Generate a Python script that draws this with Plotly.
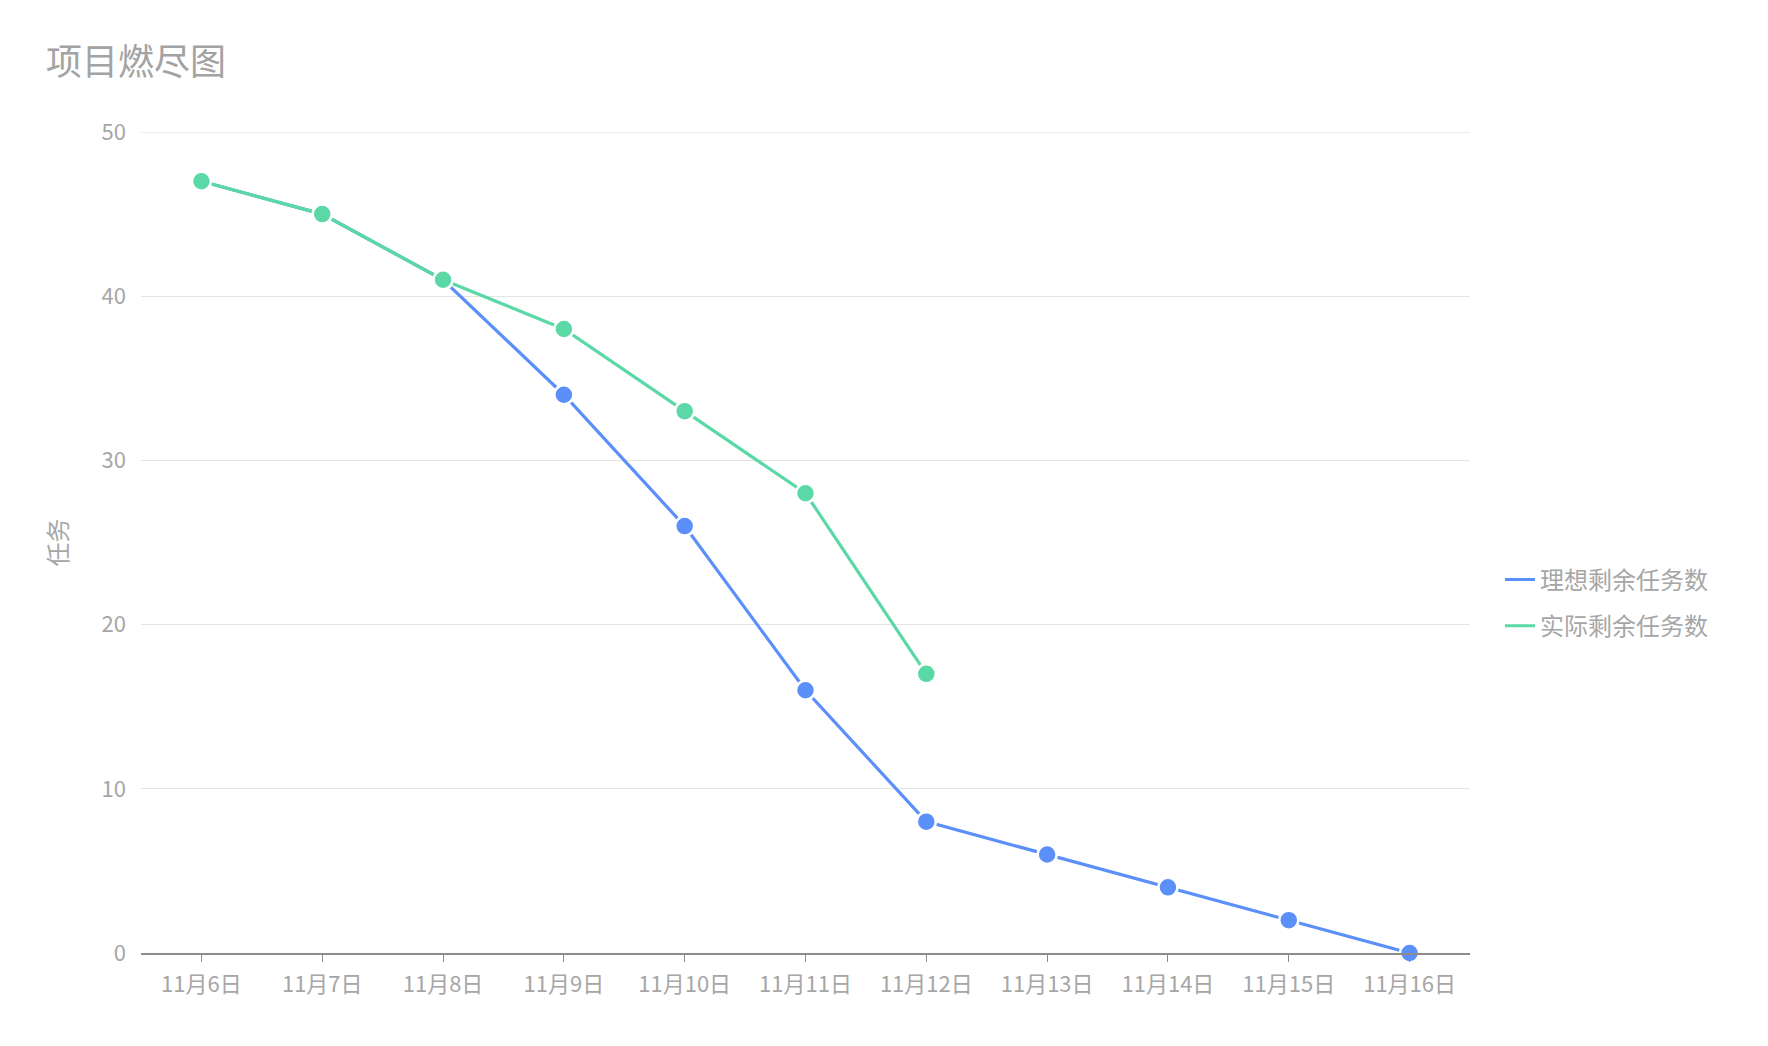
import plotly.graph_objects as go

categories = ["11月6日", "11月7日", "11月8日", "11月9日", "11月10日", "11月11日",
              "11月12日", "11月13日", "11月14日", "11月15日", "11月16日"]
ideal_remaining = [47, 45, 41, 34, 26, 16, 8, 6, 4, 2, 0]
actual_remaining = [47, 45, 41, 38, 33, 28, 17]
series_names = ["理想剩余任务数", "实际剩余任务数"]
y_ticks = [0, 10, 20, 30, 40, 50]

BLUE = "#5B8FF9"
GREEN = "#5AD8A6"
TEXT = "#a6a6a6"
GRID = "#e3e3e3"
FONT = "Noto Sans CJK SC, Microsoft YaHei, sans-serif"

# page body has an 8px margin, so the figure is drawn 8px smaller
W, H = 1760, 1038
fig = go.Figure()

for i, (name, vals, col) in enumerate([(series_names[0], ideal_remaining, BLUE),
                                       (series_names[1], actual_remaining, GREEN)]):
    fig.add_trace(go.Scatter(
        x=categories[:len(vals)], y=vals, mode="lines+markers", name=name,
        line=dict(color=col, width=3.2),
        marker=dict(size=19, color=col, line=dict(color="white", width=2.5)),
        showlegend=False, cliponaxis=False, legendgroup=f"g{i}",
    ))
    # legend-only entry (line symbol without marker)
    fig.add_trace(go.Scatter(
        x=[None], y=[None], mode="lines", name=name,
        line=dict(color=col, width=3), showlegend=True, legendgroup=f"g{i}",
    ))

# top gridline (plotly drops the gridline lying on the plot edge)
fig.add_shape(type="line", xref="paper", yref="y", x0=0, x1=1,
              y0=y_ticks[-1], y1=y_ticks[-1], layer="below",
              line=dict(color=GRID, width=1.5))

fig.update_layout(
    width=W, height=H,
    paper_bgcolor="white", plot_bgcolor="white",
    font=dict(family=FONT, color=TEXT, size=22),
    margin=dict(l=133, r=298, t=124, b=93, autoexpand=False),
    title=dict(text="项目燃尽图", font=dict(size=36, color="#a3a3a3", family=FONT),
               xref="container", yref="container", x=38 / W, y=1 - 54 / H,
               xanchor="left", yanchor="middle"),
    legend=dict(xref="container", yref="container", x=1492 / W, y=1 - 595 / H,
                xanchor="left", yanchor="middle", font=dict(size=24, color=TEXT),
                tracegroupgap=12, traceorder="grouped", itemwidth=30,
                bgcolor="rgba(0,0,0,0)"),
    hovermode="closest",
)

fig.update_xaxes(
    type="category", categoryorder="array", categoryarray=categories,
    range=[-0.5, len(categories) - 0.5], automargin=False,
    showline=True, linecolor="#8c8c8c", linewidth=2,
    ticks="outside", ticklen=7, tickcolor="#8c8c8c", tickwidth=1,
    showgrid=False, zeroline=False,
    tickfont=dict(size=22, color=TEXT), ticklabelstandoff=4,
)
fig.update_yaxes(
    range=[0, 50], tickvals=y_ticks, automargin=False,
    showgrid=True, gridcolor=GRID, gridwidth=1,
    showline=False, zeroline=False, ticks="",
    tickfont=dict(size=22, color=TEXT), ticklabelstandoff=14,
    title=dict(text="任务", font=dict(size=24, color=TEXT), standoff=27),
)

fig.write_html("out.html")
